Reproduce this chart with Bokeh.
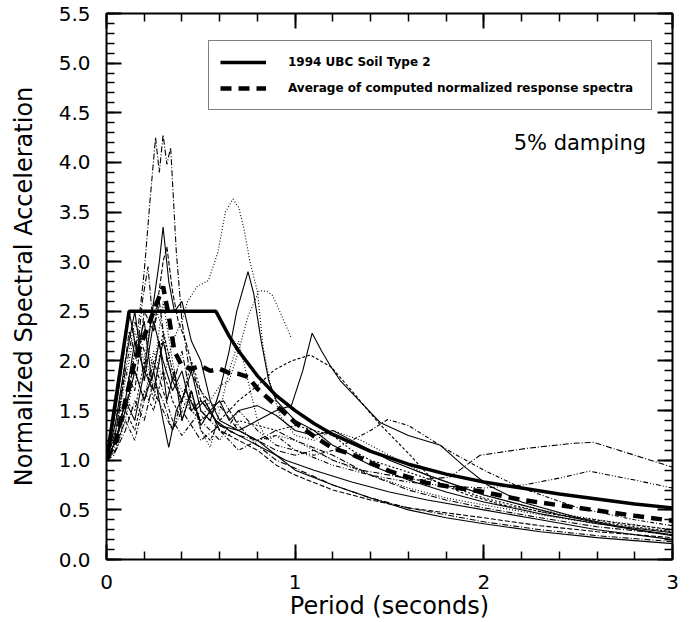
from bokeh.plotting import figure
from bokeh.models import (Range1d, LinearAxis, FixedTicker, NumeralTickFormatter,
                          CustomJSTickFormatter, Legend, LegendItem, Label)
from bokeh.embed import file_html
from bokeh.resources import INLINE

# ---------------- data ----------------
# 1994 UBC Soil Type 2 normalized spectrum
ubc_t = [0, 0.12, 0.58, 0.65, 0.7, 0.8, 0.9, 1.0, 1.1, 1.2, 1.4, 1.6, 1.8, 2.0, 2.2, 2.4, 2.6, 2.8, 3.0]
ubc_s = [1.0, 2.5, 2.5, 2.25, 2.1, 1.85, 1.65, 1.5, 1.37, 1.26, 1.09, 0.96, 0.86, 0.78, 0.72, 0.66, 0.61, 0.56, 0.52]

# Average of computed normalized response spectra
avg_t = [0, 0.05, 0.1, 0.15, 0.2, 0.25, 0.3, 0.33, 0.36, 0.4, 0.45, 0.5, 0.55, 0.6, 0.65, 0.7, 0.75,
         0.8, 0.9, 1.0, 1.1, 1.2, 1.3, 1.5, 1.7, 2.0, 2.2, 2.5, 2.8, 3.0]
avg_s = [1.0, 1.2, 1.6, 2.0, 2.25, 2.5, 2.75, 2.45, 2.1, 1.95, 1.92, 1.95, 1.9, 1.92, 1.88, 1.87, 1.84,
         1.72, 1.55, 1.38, 1.24, 1.12, 1.06, 0.89, 0.77, 0.68, 0.6, 0.52, 0.44, 0.39]

# individual computed normalized spectra
t1 = [0, 0.04, 0.08, 0.12, 0.16, 0.2, 0.23, 0.26, 0.28, 0.30, 0.32, 0.34, 0.37, 0.4, 0.44, 0.5, 0.56,
      0.62, 0.7, 0.8, 0.9, 1.0, 1.2, 1.4, 1.6, 1.8, 2.0, 2.3, 2.6, 3.0]
s1 = [1.0, 1.05, 1.3, 1.7, 2.2, 2.9, 3.6, 4.25, 3.9, 4.28, 3.98, 4.15, 3.1, 2.4, 1.9, 1.7, 1.55,
      1.6, 1.35, 1.15, 1.0, 0.92, 0.75, 0.62, 0.52, 0.45, 0.38, 0.3, 0.24, 0.18]

t2 = [0, 0.05, 0.1, 0.15, 0.2, 0.25, 0.3, 0.35, 0.4, 0.43, 0.48, 0.54, 0.59, 0.63, 0.67, 0.7, 0.73,
      0.76, 0.8, 0.83, 0.87, 0.92, 1.0, 1.1, 1.2, 1.35, 1.5, 1.7, 2.0, 2.3, 2.6, 3.0]
s2 = [1.0, 1.1, 1.4, 1.9, 1.6, 2.1, 1.8, 2.2, 2.4, 2.6, 2.75, 2.81, 3.09, 3.5, 3.63, 3.55, 3.32,
      3.0, 2.7, 2.14, 1.75, 1.45, 1.25, 1.2, 1.3, 1.2, 1.05, 0.85, 0.65, 0.5, 0.4, 0.3]

t3 = [0, 0.05, 0.1, 0.15, 0.2, 0.25, 0.3, 0.35, 0.4, 0.45, 0.5, 0.55, 0.6, 0.65, 0.69, 0.75, 0.78,
      0.82, 0.86, 0.9, 0.95, 1.0, 1.1, 1.2, 1.4, 1.6, 1.8, 2.0, 2.3, 2.6, 3.0]
s3 = [1.0, 1.2, 1.6, 1.4, 1.9, 1.7, 2.2, 1.8, 1.6, 1.9, 1.5, 1.4, 1.7, 2.1, 2.5, 2.9, 2.68,
      2.2, 1.8, 1.6, 1.5, 1.4, 1.3, 1.15, 0.95, 0.8, 0.68, 0.58, 0.46, 0.36, 0.27]

t4 = [0, 0.05, 0.1, 0.15, 0.2, 0.25, 0.3, 0.35, 0.4, 0.45, 0.5, 0.55, 0.6, 0.65, 0.7, 0.75, 0.81,
      0.85, 0.88, 0.93, 0.98]
s4 = [1.0, 1.3, 1.8, 2.3, 2.0, 2.6, 2.3, 1.9, 1.7, 1.5, 1.4, 1.6, 1.75, 1.8, 2.1, 2.45, 2.71,
      2.7, 2.66, 2.45, 2.23]

t5 = [0, 0.05, 0.1, 0.15, 0.2, 0.25, 0.3, 0.35, 0.4, 0.45, 0.5, 0.6, 0.7, 0.8, 0.9, 0.98, 1.04,
      1.09, 1.14, 1.19, 1.24, 1.35, 1.45, 1.6, 1.77, 1.9, 2.02, 2.2, 2.5, 2.8, 3.0]
s5 = [1.0, 1.4, 2.0, 2.5, 1.8, 2.4, 2.0, 1.7, 1.9, 1.5, 1.6, 1.35, 1.3, 1.4, 1.5, 1.55, 1.9,
      2.28, 2.1, 1.94, 1.8, 1.58, 1.38, 1.25, 1.15, 0.93, 0.75, 0.58, 0.42, 0.3, 0.24]

t6 = [0, 0.05, 0.1, 0.15, 0.2, 0.25, 0.3, 0.35, 0.4, 0.45, 0.5, 0.55, 0.6, 0.7, 0.8, 0.89, 0.98,
      1.08, 1.19, 1.3, 1.44, 1.6, 1.73, 1.9, 2.1, 2.4, 2.7, 3.0]
s6 = [1.0, 1.2, 1.5, 1.3, 1.7, 1.5, 1.9, 1.6, 1.4, 1.7, 1.3, 1.2, 1.4, 1.6, 1.75, 1.91, 2.0,
      2.06, 1.94, 1.7, 1.38, 1.07, 0.8, 0.66, 0.55, 0.45, 0.37, 0.3]

t7 = [0, 0.05, 0.1, 0.15, 0.2, 0.25, 0.3, 0.35, 0.4, 0.5, 0.6, 0.7, 0.8, 0.9, 1.0, 1.1, 1.2,
      1.35, 1.5, 1.65, 1.82, 1.98, 2.23, 2.47, 2.58, 2.8, 3.0]
s7 = [1.0, 1.1, 1.3, 1.6, 1.4, 1.8, 1.6, 1.3, 1.5, 1.2, 1.35, 1.25, 1.2, 1.1, 1.05, 1.1, 1.0,
      0.9, 0.85, 0.8, 0.83, 1.05, 1.12, 1.17, 1.18, 1.05, 0.93]

t8 = [0, 0.05, 0.1, 0.15, 0.2, 0.25, 0.3, 0.35, 0.4, 0.5, 0.6, 0.7, 0.8, 0.9, 1.0, 1.2, 1.4,
      1.6, 1.8, 2.0, 2.21, 2.4, 2.56, 2.8, 3.0]
s8 = [1.0, 1.3, 1.9, 2.4, 2.1, 1.7, 1.5, 1.3, 1.6, 1.4, 1.2, 1.5, 1.3, 1.15, 1.1, 0.95, 0.85,
      0.78, 0.74, 0.72, 0.75, 0.82, 0.89, 0.8, 0.72]

t9 = [0, 0.05, 0.1, 0.15, 0.2, 0.25, 0.3, 0.35, 0.4, 0.5, 0.6, 0.7, 0.8, 0.9, 1.0, 1.1, 1.2,
      1.3, 1.4, 1.49, 1.6, 1.81, 2.0, 2.2, 2.5, 2.8, 3.0]
s9 = [1.0, 1.15, 1.4, 1.2, 1.6, 2.0, 1.7, 1.4, 1.25, 1.5, 1.3, 1.1, 1.2, 1.25, 1.1, 1.05, 1.1,
      1.2, 1.3, 1.41, 1.35, 1.1, 0.9, 0.72, 0.52, 0.4, 0.34]

t10 = [0, 0.05, 0.1, 0.15, 0.2, 0.25, 0.3, 0.33, 0.37, 0.42, 0.47, 0.52, 0.58, 0.65, 0.75, 0.85,
       0.95, 1.1, 1.3, 1.5, 1.7, 2.0, 2.3, 2.6, 3.0]
s10 = [1.0, 1.2, 1.5, 1.9, 1.6, 1.9, 1.4, 1.13, 1.5, 1.7, 1.5, 1.6, 1.4, 1.3, 1.2, 1.1,
       1.0, 0.9, 0.78, 0.68, 0.6, 0.5, 0.4, 0.3, 0.2]

t11 = [0, 0.05, 0.1, 0.15, 0.2, 0.25, 0.3, 0.32, 0.35, 0.38, 0.42, 0.46, 0.5, 0.55, 0.6, 0.7,
       0.8, 0.9, 1.0, 1.2, 1.4, 1.6, 1.8, 2.0, 2.3, 2.6, 3.0]
s11 = [1.0, 1.3, 1.9, 1.7, 2.5, 2.3, 3.0, 3.15, 2.7, 2.4, 2.2, 1.9, 1.6, 1.5, 1.3, 1.2,
       1.1, 0.95, 0.85, 0.7, 0.6, 0.52, 0.47, 0.42, 0.34, 0.28, 0.22]

t12 = [0, 0.05, 0.1, 0.15, 0.2, 0.25, 0.28, 0.3, 0.33, 0.36, 0.4, 0.45, 0.5, 0.55, 0.6, 0.7,
       0.8, 0.9, 1.0, 1.2, 1.4, 1.6, 1.8, 2.0, 2.3, 2.6, 3.0]
s12 = [1.0, 1.2, 1.6, 2.2, 1.9, 2.6, 3.0, 3.35, 2.8, 2.5, 2.6, 2.2, 2.0, 1.6, 1.4, 1.3,
       1.2, 1.05, 0.9, 0.75, 0.62, 0.5, 0.42, 0.36, 0.28, 0.22, 0.16]

t13 = [0, 0.04, 0.08, 0.12, 0.16, 0.19, 0.22, 0.25, 0.28, 0.32, 0.36, 0.4, 0.45, 0.5, 0.6, 0.7,
       0.8, 0.9, 1.0, 1.2, 1.4, 1.6, 1.8, 2.0, 2.3, 2.6, 3.0]
s13 = [1.0, 1.3, 1.7, 2.3, 2.0, 2.6, 2.95, 2.3, 2.6, 2.0, 1.8, 2.1, 1.6, 1.4, 1.55, 1.3,
       1.2, 1.3, 1.2, 1.05, 0.85, 0.7, 0.6, 0.52, 0.42, 0.33, 0.25]

t14 = [0, 0.05, 0.1, 0.15, 0.2, 0.25, 0.3, 0.35, 0.4, 0.45, 0.5, 0.55, 0.6, 0.65, 0.7, 0.75,
       0.8, 0.85, 0.9, 1.0, 1.1, 1.2, 1.4, 1.6, 1.8, 2.0, 2.3, 2.6, 3.0]
s14 = [1.0, 1.2, 1.6, 2.1, 2.3, 1.9, 2.6, 2.0, 1.5, 1.7, 1.3, 1.13, 1.5, 1.9, 2.2, 1.8,
       1.4, 1.2, 1.25, 1.2, 1.1, 1.0, 0.85, 0.72, 0.62, 0.55, 0.45, 0.36, 0.28]

t15 = [0, 0.04, 0.08, 0.12, 0.16, 0.2, 0.24, 0.28, 0.32, 0.36, 0.4, 0.45, 0.5, 0.55, 0.6, 0.65,
       0.7, 0.8, 0.9, 1.0, 1.1, 1.2, 1.3, 1.5, 1.7, 2.0, 2.4, 2.7, 3.0]
s15 = [1.0, 1.4, 1.9, 2.5, 2.1, 2.4, 1.8, 2.2, 1.6, 1.9, 1.4, 1.7, 1.35, 1.5, 1.6, 1.4,
       1.5, 1.55, 1.45, 1.3, 1.25, 1.3, 1.2, 1.0, 0.85, 0.65, 0.45, 0.33, 0.25]

t16 = [0, 0.05, 0.1, 0.15, 0.2, 0.25, 0.3, 0.35, 0.4, 0.45, 0.5, 0.55, 0.6, 0.65, 0.7, 0.8,
       0.9, 1.0, 1.1, 1.2, 1.3, 1.4, 1.6, 1.8, 2.0, 2.3, 2.6, 3.0]
s16 = [1.0, 1.2, 1.6, 1.5, 2.0, 1.6, 2.3, 1.9, 1.6, 2.0, 1.7, 1.5, 1.3, 1.25, 1.4, 1.35,
       1.3, 1.35, 1.3, 1.25, 1.1, 1.0, 0.88, 0.75, 0.62, 0.48, 0.38, 0.28]

x_ticks = [0, 1, 2, 3]
y_ticks = [0.0, 0.5, 1.0, 1.5, 2.0, 2.5, 3.0, 3.5, 4.0, 4.5, 5.0, 5.5]

# ---------------- styles ----------------
thin_sets = [(t1, s1), (t2, s2), (t3, s3), (t4, s4), (t5, s5), (t6, s6), (t7, s7), (t8, s8),
             (t9, s9), (t10, s10), (t11, s11), (t12, s12), (t13, s13), (t14, s14), (t15, s15), (t16, s16)]
thin_dash = ["6 2 1 2", "1 2", "solid", "1 2", "solid", "3 2", "6 2 1 2", "5 2 1 2 1 2",
             "4 2 1 2", "solid", "5 2", "solid", "6 2 1 2", "1 2", "solid", "2 2"]

FONT = "DejaVu Sans"

p = figure(width=689, height=622, output_backend="svg", toolbar_location=None,
           x_range=Range1d(0, 3), y_range=Range1d(0, 5.5),
           min_border_left=106, min_border_right=17, min_border_top=13, min_border_bottom=40)
p.grid.visible = False
p.outline_line_color = None
p.background_fill_color = "white"

for (tt, ss), dash in zip(thin_sets, thin_dash):
    p.line(tt, ss, line_color="black", line_width=1.1, line_dash=dash)

r_ubc = p.line(ubc_t, ubc_s, line_color="black", line_width=3.5)
r_avg = p.line(avg_t, avg_s, line_color="black", line_width=4.5, line_dash="11 7")

minor_x = [i * 0.2 for i in range(16)]
minor_y = [i * 0.1 for i in range(56)]


def style_axis(ax, show_labels):
    ax.axis_line_width = 2
    ax.axis_line_color = "black"
    ax.major_tick_in = 15
    ax.major_tick_out = 0
    ax.minor_tick_in = 8
    ax.minor_tick_out = 0
    ax.major_tick_line_width = 2
    ax.minor_tick_line_width = 1.5
    ax.major_tick_line_color = "black"
    ax.minor_tick_line_color = "black"
    if show_labels:
        ax.major_label_text_font = FONT
        ax.major_label_text_font_size = "20px"
        ax.major_label_text_color = "black"
        ax.axis_label_text_font = FONT
        ax.axis_label_text_font_size = "24px"
        ax.axis_label_text_font_style = "normal"
        ax.axis_label_text_color = "black"
    else:
        ax.formatter = CustomJSTickFormatter(code="return ''")
        ax.major_label_standoff = 0
        ax.axis_label = None


xa = p.xaxis[0]
xa.ticker = FixedTicker(ticks=x_ticks, minor_ticks=minor_x)
xa.axis_label = "Period (seconds)"
style_axis(xa, True)
xa.major_label_standoff = 15
xa.axis_label_standoff = 0

ya = p.yaxis[0]
ya.ticker = FixedTicker(ticks=y_ticks, minor_ticks=minor_y)
ya.formatter = NumeralTickFormatter(format="0.0")
ya.axis_label = "Normalized Spectral Acceleration"
style_axis(ya, True)
ya.major_label_standoff = 16
ya.axis_label_standoff = 18

xt = LinearAxis(ticker=FixedTicker(ticks=x_ticks, minor_ticks=minor_x))
style_axis(xt, False)
p.add_layout(xt, "above")

yr = LinearAxis(ticker=FixedTicker(ticks=y_ticks, minor_ticks=minor_y))
style_axis(yr, False)
p.add_layout(yr, "right")

legend = Legend(items=[LegendItem(label="1994 UBC Soil Type 2", renderers=[r_ubc]),
                       LegendItem(label="Average of computed normalized response spectra", renderers=[r_avg])],
                location=(102, 449), orientation="vertical",
                padding=11, spacing=6, margin=0,
                glyph_width=46, glyph_height=20, label_standoff=22,
                label_height=20, label_width=352,
                label_text_font=FONT, label_text_font_size="12px", label_text_font_style="bold",
                label_text_color="black",
                border_line_color="black", border_line_width=1,
                background_fill_color="white", background_fill_alpha=1)
p.add_layout(legend, "center")

p.add_layout(Label(x=2.86, y=4.2, text="5% damping", text_align="right", text_baseline="middle",
                   text_font=FONT, text_font_size="21px", text_color="black"))

open("out.html", "w").write(file_html(p, INLINE))
